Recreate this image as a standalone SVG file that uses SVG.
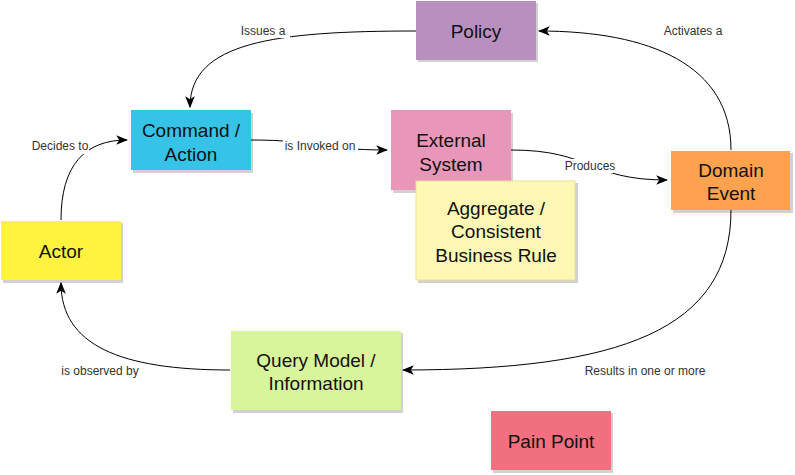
<svg xmlns="http://www.w3.org/2000/svg" width="795" height="475" viewBox="0 0 795 475">
<style>
.sh{fill:#000;opacity:0.18}
.n{font-family:"Liberation Sans",Arial,sans-serif;font-size:19px;fill:#111;text-anchor:middle}
.l{font-family:"Liberation Sans",Arial,sans-serif;font-size:12px;fill:#333;text-anchor:middle}
.c{fill:none;stroke:#000;stroke-width:1}
.lb{fill:#fff}
</style>
<defs>
<marker id="arr" markerUnits="userSpaceOnUse" markerWidth="12" markerHeight="12" viewBox="0 0 10 10" refX="9" refY="5" orient="auto">
<path d="M0,1 L10,5 L0,9 L2.5,5 z" fill="#000"/>
</marker>
</defs>
<rect width="795" height="475" fill="#fff"/>
<g id="connectors">
<path class="c" d="M416,31 C275,31 190,42 190,107" marker-end="url(#arr)"/>
<path class="c" d="M731,150 C731,65 650,31 539,31" marker-end="url(#arr)"/>
<path class="c" d="M251,140 C318,140 320,150 387,150" marker-end="url(#arr)"/>
<path class="c" d="M511,150 C592,150 588,180 667,180" marker-end="url(#arr)"/>
<path class="c" d="M731,210 C731,330 620,370 403,370" marker-end="url(#arr)"/>
<path class="c" d="M230,370 C120,370 61,345 61,283" marker-end="url(#arr)"/>
<path class="c" d="M61,220 C61,165 85,140 127,140" marker-end="url(#arr)"/>
<rect class="lb" x="236" y="24" width="54" height="14"/>
<text class="l" x="263" y="35">Issues a</text>
<rect class="lb" x="657" y="24" width="72" height="14"/>
<text class="l" x="693" y="35">Activates a</text>
<rect class="lb" x="283" y="139" width="75" height="14"/>
<text class="l" x="320" y="150">is Invoked on</text>
<rect class="lb" x="563" y="159" width="54" height="14"/>
<text class="l" x="590" y="170">Produces</text>
<text class="l" x="645" y="375">Results in one or more</text>
<text class="l" x="100" y="375">is observed by</text>
<rect class="lb" x="31" y="140" width="58" height="14"/>
<text class="l" x="60" y="150">Decides to</text>
</g>
<g id="policy">
<rect class="sh" x="418" y="3" width="120" height="59"/>
<rect x="416" y="1" width="120" height="59" fill="#b98fbf"/>
<text class="n" x="476" y="38">Policy</text>
</g>
<g id="command">
<rect class="sh" x="133" y="113" width="120" height="60"/>
<rect x="131" y="110" width="120" height="60" fill="#35c4e8"/>
<text class="n" x="191" y="137">Command /</text>
<text class="n" x="191" y="161">Action</text>
</g>
<g id="external">
<rect class="sh" x="393" y="113" width="120" height="80"/>
<rect x="391" y="110" width="120" height="80" fill="#e897ba"/>
<text class="n" x="451" y="147">External</text>
<text class="n" x="451" y="171">System</text>
</g>
<g id="aggregate">
<rect class="sh" x="418" y="183" width="160" height="100"/>
<rect x="416" y="181" width="159" height="99" fill="#fff8b4" stroke="#e8df99" stroke-width="1"/>
<text class="n" x="496" y="215">Aggregate /</text>
<text class="n" x="496" y="238">Consistent</text>
<text class="n" x="496" y="262">Business Rule</text>
</g>
<g id="domain-event">
<rect class="sh" x="673" y="153" width="120" height="60"/>
<rect x="671" y="151" width="119" height="59" fill="#ffa24f"/>
<text class="n" x="731" y="177">Domain</text>
<text class="n" x="731" y="200">Event</text>
</g>
<g id="actor">
<rect class="sh" x="3" y="223" width="120" height="60"/>
<rect x="1" y="221" width="120" height="59" fill="#fff33f"/>
<text class="n" x="61" y="258">Actor</text>
</g>
<g id="query-model">
<rect class="sh" x="233" y="333" width="170" height="80"/>
<rect x="231" y="331" width="170" height="79" fill="#d8f59b"/>
<text class="n" x="316" y="367">Query Model /</text>
<text class="n" x="316" y="390">Information</text>
</g>
<g id="pain-point">
<rect class="sh" x="493" y="413" width="120" height="60"/>
<rect x="491" y="411" width="120" height="59" fill="#f07080"/>
<text class="n" x="551" y="448">Pain Point</text>
</g>
</svg>
